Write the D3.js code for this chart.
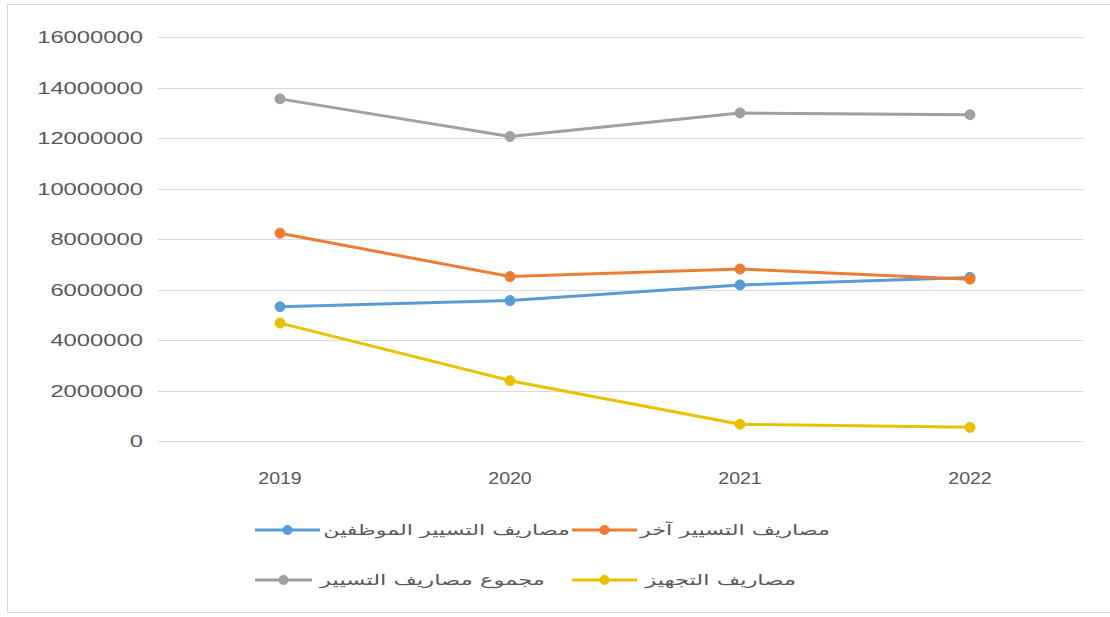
<!DOCTYPE html>
<meta charset="utf-8">
<html>
<head>
<style>
  body { margin: 0; background: #fff; }
  .tick-label { font-family: "Liberation Sans", Arial, sans-serif; fill: #595959; }
  .legend-label { font-family: "DejaVu Sans", sans-serif; fill: #595959; font-size: 15px; }
</style>
</head>
<body>
<div id="vis"></div>
<script src="https://d3js.org/d3.v7.min.js"></script>
<script>
  // data
  var years = ["2019", "2020", "2021", "2022"];
  var staffCosts = [5320000, 5560000, 6180000, 6480000];
  var otherCosts = [8230000, 6510000, 6810000, 6410000];
  var totalCosts = [13550000, 12060000, 12990000, 12920000];
  var equipCosts = [4670000, 2390000, 660000, 540000];
  var yTicks = [0, 2000000, 4000000, 6000000, 8000000, 10000000, 12000000, 14000000, 16000000];
  var seriesNames = ["مصاريف التسيير الموظفين", "مصاريف التسيير آخر", "مجموع مصاريف التسيير", "مصاريف التجهيز"];

  var colors = ["#5b9bd5", "#ed7d31", "#a0a0a0", "#e8c200"];
  var series = [staffCosts, otherCosts, totalCosts, equipCosts];

  var W = 1110, H = 617;

  var svg = d3.select("#vis").append("svg")
    .attr("width", W)
    .attr("height", H);

  // chart area border
  svg.append("rect")
    .attr("x", 7.5).attr("y", 4.5)
    .attr("width", W + 10).attr("height", 608)
    .style("fill", "#fff")
    .style("stroke", "#d9d9d9");

  var x = d3.scaleBand().domain(years).range([165, 1085]);
  var y = d3.scaleLinear().domain([0, 16000000]).range([441, 37]);

  // gridlines
  svg.append("g")
    .selectAll("line")
    .data(yTicks)
    .enter().append("line")
    .attr("x1", 158).attr("x2", 1083)
    .attr("y1", function(d) { return Math.round(y(d)) + 0.5; })
    .attr("y2", function(d) { return Math.round(y(d)) + 0.5; })
    .style("stroke", "#d9d9d9")
    .style("stroke-width", 1);

  // y axis labels (stretched wide like the picture)
  svg.append("g")
    .selectAll("text")
    .data(yTicks)
    .enter().append("text")
    .attr("class", "tick-label")
    .attr("transform", function(d) { return "translate(143," + (y(d) + 6) + ") scale(1.4,1)"; })
    .style("font-size", "17px")
    .style("text-anchor", "end")
    .text(function(d) { return d; });

  // x axis labels
  svg.append("g")
    .selectAll("text")
    .data(years)
    .enter().append("text")
    .attr("class", "tick-label")
    .attr("transform", function(d) { return "translate(" + (x(d) + x.bandwidth() / 2) + ",484) scale(1.15,1)"; })
    .style("font-size", "17px")
    .style("text-anchor", "middle")
    .text(function(d) { return d; });

  var line = d3.line()
    .x(function(d, i) { return x(years[i]) + x.bandwidth() / 2; })
    .y(function(d) { return y(d); });

  series.forEach(function(vals, k) {
    svg.append("path")
      .datum(vals)
      .attr("d", line)
      .style("fill", "none")
      .style("stroke", colors[k])
      .style("stroke-width", 3)
      .style("stroke-linejoin", "round");

    svg.selectAll(".dot" + k)
      .data(vals)
      .enter().append("circle")
      .attr("class", "dot" + k)
      .attr("r", 5)
      .attr("cx", function(d, i) { return x(years[i]) + x.bandwidth() / 2; })
      .attr("cy", function(d) { return y(d); })
      .style("fill", colors[k])
      .style("stroke", colors[k]);
  });

  // legend, two rows, marker left of text
  var legendPos = [
    {x0: 255, x1: 320, y: 530, right: 570, w: 247},
    {x0: 572, x1: 637, y: 530, right: 830, w: 190},
    {x0: 255, x1: 312, y: 580, right: 545, w: 225},
    {x0: 572, x1: 637, y: 580, right: 796, w: 151}
  ];

  var legend = svg.append("g");
  seriesNames.forEach(function(name, k) {
    var p = legendPos[k];
    legend.append("line")
      .attr("x1", p.x0).attr("x2", p.x1)
      .attr("y1", p.y).attr("y2", p.y)
      .style("stroke", colors[k])
      .style("stroke-width", 3);
    legend.append("circle")
      .attr("cx", (p.x0 + p.x1) / 2).attr("cy", p.y)
      .attr("r", 5)
      .style("fill", colors[k]);
    var t = legend.append("text")
      .attr("class", "legend-label")
      .attr("x", p.right).attr("y", p.y + 5)
      .style("text-anchor", "end")
      .text(name);
    var len = t.node().getComputedTextLength();
    t.attr("transform", "translate(" + p.right + ",0) scale(" + (p.w / len) + ",1) translate(" + (-p.right) + ",0)");
  });
</script>
</body>
</html>
